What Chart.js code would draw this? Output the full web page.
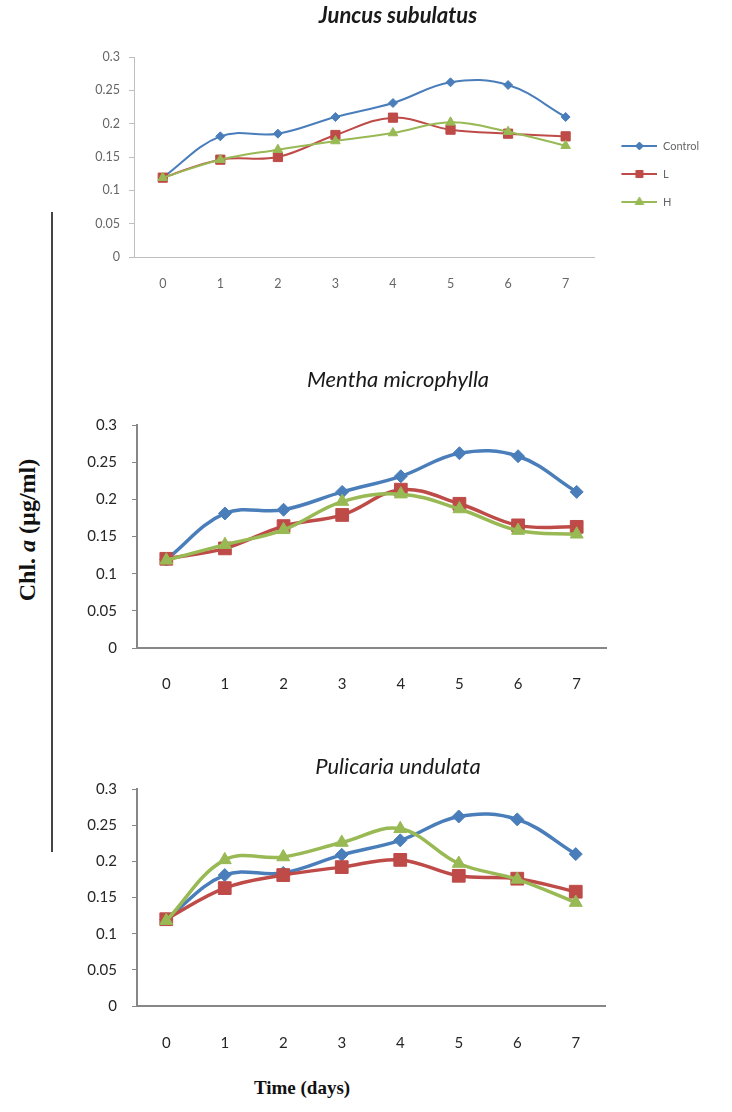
<!DOCTYPE html>
<html>
<head>
<meta charset="utf-8">
<script src="https://cdn.jsdelivr.net/npm/chart.js@4.4.1/dist/chart.umd.min.js"></script>
<style>
  html, body { margin: 0; padding: 0; background: #fff; overflow: hidden; }
  body { width: 732px; height: 1112px; position: relative; }
  canvas { position: absolute; left: 64px; }
  #yTitle { position: absolute; left: 27px; top: 530px; transform: translate(-50%, -50%) rotate(-90deg);
            font: bold 24px 'Liberation Serif', serif; white-space: nowrap; color: #111; }
  #yLine { position: absolute; left: 51px; top: 212px; width: 2px; height: 640px; background: #444; }
  #xTitle { position: absolute; left: 302px; top: 1088px; transform: translate(-50%, -50%);
            font: bold 19px 'Liberation Serif', serif; white-space: nowrap; color: #111; }
</style>
</head>
<body>
<canvas id="c1" width="668" height="300" style="top:0px"></canvas>
<canvas id="c2" width="668" height="340" style="top:360px"></canvas>
<canvas id="c3" width="668" height="320" style="top:745px"></canvas>
<div id="yLine"></div>
<div id="yTitle">Chl. <i>a</i> (µg/ml)</div>
<div id="xTitle">Time (days)</div>
<script>
// data
const days = ['0', '1', '2', '3', '4', '5', '6', '7'];
const yTicks = ['0', '0.05', '0.1', '0.15', '0.2', '0.25', '0.3'];
const seriesNames = ['Control', 'L', 'H'];

const juncusControl = [0.119, 0.181, 0.185, 0.210, 0.231, 0.262, 0.258, 0.210];
const juncusL       = [0.119, 0.146, 0.150, 0.183, 0.209, 0.191, 0.185, 0.181];
const juncusH       = [0.119, 0.146, 0.161, 0.174, 0.186, 0.202, 0.188, 0.167];

const menthaControl = [0.119, 0.181, 0.186, 0.210, 0.231, 0.262, 0.258, 0.210];
const menthaL       = [0.120, 0.134, 0.164, 0.179, 0.213, 0.194, 0.165, 0.163];
const menthaH       = [0.118, 0.139, 0.159, 0.197, 0.207, 0.187, 0.158, 0.153];

const pulicariaControl = [0.120, 0.181, 0.184, 0.209, 0.229, 0.262, 0.258, 0.210];
const pulicariaL       = [0.120, 0.163, 0.181, 0.192, 0.202, 0.180, 0.176, 0.158];
const pulicariaH       = [0.118, 0.202, 0.206, 0.226, 0.245, 0.197, 0.175, 0.143];

const colors = ['#4A7EBB', '#BE4B48', '#98B954'];
const shapes = ['rectRot', 'rect', 'triangle'];

Chart.defaults.font.family = 'Lato';
Chart.defaults.animation = false;

function makeIcon(color, style, r) {
    const c = document.createElement('canvas');
    c.width = 46; c.height = 14;
    const ctx = c.getContext('2d');
    ctx.strokeStyle = color;
    ctx.fillStyle = color;
    ctx.lineWidth = 2;
    ctx.beginPath(); ctx.moveTo(10, 7); ctx.lineTo(46, 7); ctx.stroke();
    ctx.lineWidth = 1;
    Chart.helpers.drawPoint(ctx, { pointStyle: style, radius: r, borderWidth: 1 }, 28, 7);
    return c;
}

function makeChart(id, title, values, o) {
    const datasets = values.map((v, i) => ({
        label: seriesNames[i],
        data: v,
        borderColor: colors[i],
        backgroundColor: colors[i],
        borderWidth: o.lineWidth,
        pointStyle: shapes[i],
        pointRadius: o.radius[i],
        pointBorderWidth: 1,
        tension: 0.38,
        order: 3 - i
    }));

    let legend = { display: false };
    if (o.legend) {
        const icons = datasets.map((d, i) => makeIcon(colors[i], shapes[i], [4, 5, 5][i]));
        legend = {
            display: true,
            position: 'right',
            title: { display: true, text: ' ', padding: 18, font: { size: 10 } },
            labels: {
                usePointStyle: true,
                pointStyleWidth: 46,
                padding: 17,
                color: '#222',
                font: { size: 11 },
                generateLabels: chart => chart.data.datasets.map((ds, i) => ({
                    text: ds.label, pointStyle: icons[i], datasetIndex: i,
                    fillStyle: ds.borderColor, strokeStyle: ds.borderColor, lineWidth: 0, hidden: false
                }))
            }
        };
    }

    const scales = {
        x: {
            offset: true,
            grid: { display: false, drawTicks: false },
            border: { display: true, color: o.axisColor, width: o.axisWidth },
            ticks: { color: o.tickColor, font: { size: o.fontSize }, padding: o.xPad, maxRotation: 0 },
            afterFit: s => { s.height = o.xHeight; }
        },
        y: {
            min: 0, max: 0.3,
            grid: { display: true, drawOnChartArea: false, drawTicks: true, tickLength: 5, color: o.axisColor },
            border: { display: true, color: o.axisColor, width: o.axisWidth },
            ticks: { stepSize: 0.05, color: o.tickColor, font: { size: o.fontSize }, padding: o.yPad,
                     callback: (v, i) => yTicks[i] },
            afterFit: s => { s.width = o.yWidth; }
        }
    };
    // empty space on the right, kept out of the title's width
    if (o.spacer) {
        scales.spacer = {
            type: 'linear', position: 'right', display: true,
            grid: { display: false }, border: { display: false }, ticks: { display: false },
            afterFit: s => { s.width = o.spacer; }
        };
    }

    return new Chart(document.getElementById(id), {
        type: 'line',
        data: { labels: days, datasets: datasets },
        options: {
            responsive: false,
            layout: { padding: { left: o.pad, right: o.pad, top: 0, bottom: 0 } },
            plugins: {
                legend: legend,
                tooltip: { enabled: false },
                title: {
                    display: true, text: title, color: '#1a1a1a',
                    font: { size: 22, style: 'italic', weight: o.bold ? 'bold' : 'normal' },
                    padding: { top: o.titleTop, bottom: o.titleBottom }
                }
            },
            scales: scales
        }
    });
}

makeChart('c1', 'Juncus subulatus', [juncusControl, juncusL, juncusH], {
    legend: true, bold: true, lineWidth: 2, radius: [4.5, 6.5, 5.5],
    pad: 23, spacer: 0, titleTop: 3, titleBottom: 27.6,
    axisColor: '#BFBFBF', axisWidth: 1, tickColor: '#666666', fontSize: 12.5,
    xPad: 19.5, xHeight: 43, yPad: 9, yWidth: 47
});

makeChart('c2', 'Mentha microphylla', [menthaControl, menthaL, menthaH], {
    legend: false, bold: false, lineWidth: 3.5, radius: [6.5, 9, 7.5],
    pad: 0, spacer: 126, titleTop: 6.8, titleBottom: 31.8,
    axisColor: '#878787', axisWidth: 2, tickColor: '#262626', fontSize: 15,
    xPad: 27, xHeight: 52, yPad: 15, yWidth: 73
});

makeChart('c3', 'Pulicaria undulata', [pulicariaControl, pulicariaL, pulicariaH], {
    legend: false, bold: false, lineWidth: 3.5, radius: [6.5, 9, 7.5],
    pad: 0, spacer: 127, titleTop: 8.8, titleBottom: 8.8,
    axisColor: '#878787', axisWidth: 2, tickColor: '#262626', fontSize: 15,
    xPad: 28, xHeight: 59, yPad: 15, yWidth: 73
});
</script>
</body>
</html>
